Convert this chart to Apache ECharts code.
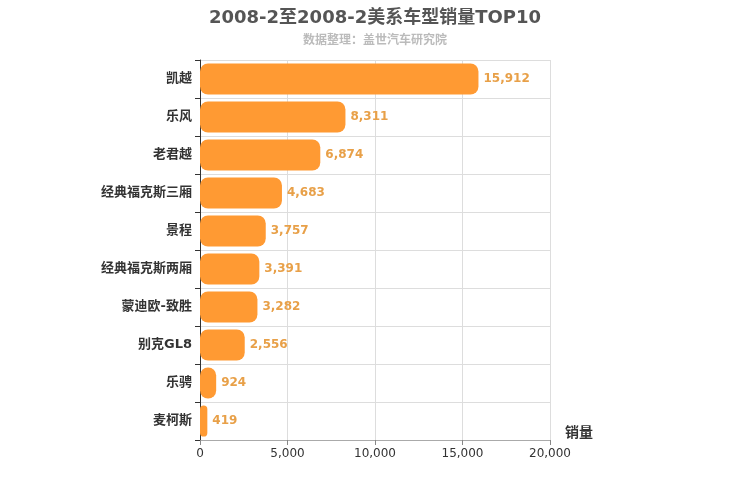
<!DOCTYPE html>
<html>
<head>
<meta charset="utf-8">
<script src="https://cdn.jsdelivr.net/npm/echarts@6/dist/echarts.min.js"></script>
<style>html,body{margin:0;padding:0;background:#fff}#chart{width:750px;height:500px}</style>
</head>
<body>
<div id="chart"></div>
<script>
// 车型名称（从上到下）
const models = ['凯越', '乐风', '老君越', '经典福克斯三厢', '景程', '经典福克斯两厢', '蒙迪欧-致胜', '别克GL8', '乐骋', '麦柯斯'];
// 销量
const sales = [15912, 8311, 6874, 4683, 3757, 3391, 3282, 2556, 924, 419];
const xTicks = [0, 5000, 10000, 15000, 20000];

const chart = echarts.init(document.getElementById('chart'));
const font = 'DejaVu Sans, Noto Sans CJK SC, sans-serif';

chart.setOption({
  backgroundColor: '#fff',
  textStyle: { fontFamily: font },
  title: {
    text: '2008-2至2008-2美系车型销量TOP10',
    subtext: '数据整理：盖世汽车研究院',
    left: 'center',
    top: 4,
    itemGap: 8,
    textStyle: { fontSize: 18, fontWeight: 'bold', color: '#555' },
    subtextStyle: { fontSize: 12, fontWeight: 'bold', color: '#bbb' }
  },
  grid: { left: 200, right: 200, top: 60, bottom: 60 },
  xAxis: {
    type: 'value',
    min: xTicks[0],
    max: xTicks[xTicks.length - 1],
    interval: 5000,
    name: '销量',
    nameLocation: 'end',
    nameGap: 15,
    nameTextStyle: { fontSize: 14, fontWeight: 'bold', color: '#333', verticalAlign: 'bottom', padding: [0, 0, 0, 0] },
    axisLine: { show: true, lineStyle: { color: '#aaa' } },
    axisTick: { show: true, lineStyle: { color: '#888' } },
    axisLabel: { color: '#333', fontSize: 12, formatter: v => v.toLocaleString('en-US') },
    splitLine: { show: true, lineStyle: { color: '#ddd' } }
  },
  yAxis: {
    type: 'category',
    inverse: true,
    data: models,
    axisLine: { show: true, lineStyle: { color: '#333' } },
    axisTick: { show: true, lineStyle: { color: '#333' } },
    axisLabel: { color: '#333', fontSize: 13, fontWeight: 'bold', margin: 8 },
    splitLine: { show: true, lineStyle: { color: '#ddd' } }
  },
  series: [{
    type: 'bar',
    data: sales,
    barCategoryGap: '18%',
    itemStyle: { color: '#ff9a33', borderRadius: 8 },
    label: {
      show: true,
      position: 'right',
      distance: 5,
      color: '#e8a048',
      fontSize: 12,
      fontWeight: 'bold',
      formatter: p => p.value.toLocaleString('en-US')
    }
  }]
});
</script>
</body>
</html>
